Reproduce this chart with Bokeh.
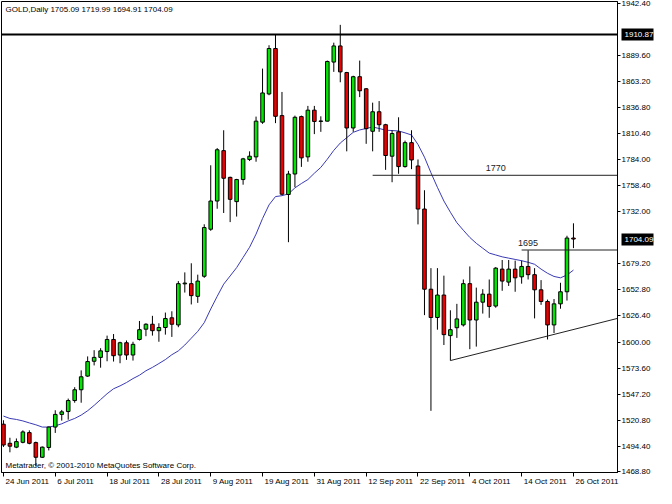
from bokeh.plotting import figure
from bokeh.models import (Range1d, FixedTicker, PrintfTickFormatter, Label, ColumnDataSource,
                          Span, LinearAxis)
from bokeh.embed import file_html
from bokeh.resources import INLINE

# ---- data (GOLD, Daily, 24 Jun 2011 - 26 Oct 2011) ----
opens = [1517.0, 1497.7, 1493.8, 1498.7, 1508.5, 1498.4, 1483.6, 1493.5, 1514.1, 1526.9,
         1529.8, 1540.9, 1551.8, 1565.6, 1580.6, 1584.5, 1590.4, 1602.6, 1586.9, 1599.3,
         1586.9, 1602.6, 1613.0, 1618.0, 1611.5, 1614.7, 1624.5, 1617.3, 1658.8, 1659.0,
         1646.2, 1666.5, 1714.0, 1742.5, 1793.4, 1766.4, 1741.9, 1764.2, 1784.5, 1787.1,
         1822.2, 1850.7, 1896.6, 1828.8, 1749.1, 1769.8, 1827.8, 1787.1, 1834.3, 1822.9,
         1823.2, 1882.9, 1899.2, 1872.3, 1816.3, 1868.1, 1855.9, 1813.0, 1832.7, 1819.6,
         1787.8, 1812.4, 1777.3, 1801.5, 1777.9, 1734.4, 1653.4, 1624.8, 1647.5, 1606.5,
         1614.5, 1617.3, 1659.0, 1622.3, 1640.3, 1648.4, 1636.4, 1673.7, 1660.6, 1673.7,
         1665.9, 1676.4, 1668.1, 1652.8, 1641.0, 1617.3, 1638.6, 1650.8, 1705.09]
highs = [1521.0, 1503.3, 1502.6, 1510.8, 1510.8, 1499.4, 1494.5, 1514.7, 1531.1, 1531.4,
         1542.9, 1554.4, 1571.4, 1585.5, 1591.8, 1593.8, 1606.5, 1608.1, 1600.3, 1601.6,
         1600.3, 1621.3, 1619.0, 1626.5, 1619.0, 1629.8, 1631.1, 1661.6, 1670.4, 1679.6,
         1668.1, 1719.0, 1778.6, 1796.0, 1814.0, 1767.1, 1764.9, 1786.1, 1792.7, 1827.8,
         1876.3, 1899.9, 1910.7, 1852.7, 1773.0, 1828.8, 1828.8, 1838.6, 1838.6, 1828.1,
         1884.4, 1902.5, 1920.5, 1873.0, 1869.1, 1884.4, 1856.6, 1841.9, 1843.5, 1820.5,
         1814.0, 1827.1, 1803.5, 1814.0, 1784.5, 1753.4, 1674.7, 1674.7, 1667.1, 1632.1,
         1638.6, 1663.2, 1676.4, 1655.0, 1653.4, 1663.2, 1675.7, 1682.9, 1682.9, 1682.3,
         1682.3, 1692.7, 1674.7, 1662.6, 1642.9, 1643.5, 1659.9, 1707.4, 1719.99]
lows = [1494.0, 1488.6, 1492.8, 1497.7, 1496.7, 1474.8, 1482.9, 1490.5, 1508.2, 1520.6,
        1521.6, 1538.7, 1538.7, 1564.9, 1576.4, 1574.1, 1580.6, 1580.3, 1578.6, 1582.0,
        1581.3, 1601.6, 1605.9, 1606.5, 1600.3, 1607.5, 1605.2, 1615.0, 1650.0, 1638.0,
        1639.6, 1664.9, 1712.4, 1734.7, 1730.4, 1721.2, 1726.8, 1759.0, 1782.9, 1782.2,
        1820.5, 1849.4, 1821.2, 1748.4, 1700.9, 1756.6, 1777.0, 1782.2, 1810.1, 1812.4,
        1822.9, 1873.0, 1862.5, 1792.7, 1812.4, 1847.5, 1800.3, 1792.7, 1812.4, 1774.0,
        1761.5, 1770.0, 1776.3, 1774.7, 1718.9, 1627.2, 1530.5, 1612.5, 1597.0, 1581.3,
        1604.2, 1615.7, 1592.8, 1595.4, 1628.8, 1624.5, 1634.7, 1651.8, 1656.7, 1650.8,
        1659.0, 1663.2, 1623.9, 1637.6, 1602.6, 1609.1, 1633.7, 1641.9, 1694.91]
closes = [1496.0, 1494.8, 1499.4, 1509.2, 1497.7, 1483.6, 1493.8, 1514.1, 1526.9, 1529.5,
          1540.9, 1551.8, 1564.9, 1580.3, 1584.5, 1591.1, 1602.6, 1586.2, 1599.3, 1586.9,
          1597.7, 1612.5, 1618.0, 1611.5, 1614.7, 1623.8, 1618.0, 1659.0, 1659.2, 1646.9,
          1661.6, 1715.7, 1742.5, 1794.3, 1765.5, 1744.2, 1764.2, 1785.1, 1787.8, 1823.2,
          1851.7, 1896.6, 1828.1, 1749.4, 1769.8, 1827.1, 1786.1, 1834.3, 1822.9, 1823.0,
          1883.5, 1899.2, 1873.0, 1816.3, 1868.1, 1853.9, 1815.6, 1832.7, 1819.6, 1788.5,
          1810.7, 1777.3, 1801.5, 1784.0, 1734.4, 1653.4, 1624.8, 1647.5, 1607.5, 1612.5,
          1623.4, 1659.0, 1622.3, 1640.3, 1648.4, 1636.0, 1674.7, 1661.6, 1673.7, 1664.9,
          1676.4, 1668.1, 1652.8, 1641.0, 1617.3, 1638.6, 1650.8, 1705.1, 1704.09]
ma_values = [1525.2, 1522.8, 1521.8, 1520.3, 1518.3, 1516.4, 1514.1, 1514.1, 1515.4, 1517.4,
             1520.3, 1522.8, 1526.2, 1530.6, 1536.0, 1541.9, 1547.8, 1552.8, 1555.7, 1559.1,
             1563.1, 1566.5, 1571.0, 1574.4, 1578.3, 1582.3, 1587.2, 1591.1, 1597.0, 1603.9,
             1610.8, 1619.6, 1633.4, 1646.2, 1658.5, 1666.8, 1675.2, 1685.5, 1695.8, 1709.1,
             1724.8, 1738.6, 1747.0, 1747.9, 1749.7, 1755.8, 1760.2, 1764.2, 1770.6, 1776.5,
             1784.8, 1793.7, 1801.1, 1806.5, 1811.9, 1814.3, 1815.8, 1817.3, 1815.8, 1814.1,
             1813.7, 1813.3, 1811.4, 1809.2, 1799.6, 1786.8, 1771.1, 1756.3, 1742.5, 1731.2,
             1720.6, 1713.0, 1705.7, 1699.8, 1694.8, 1689.9, 1688.0, 1686.1, 1684.8, 1683.5,
             1682.2, 1680.6, 1678.6, 1673.7, 1669.5, 1666.3, 1664.9, 1667.8, 1672.7]

date_tick_bars = [0, 8, 16, 24, 32, 40, 48, 56, 64, 72, 80, 88]
date_tick_labels = ["24 Jun 2011", "6 Jul 2011", "18 Jul 2011", "28 Jul 2011", "9 Aug 2011",
                    "19 Aug 2011", "31 Aug 2011", "12 Sep 2011", "22 Sep 2011", "4 Oct 2011",
                    "14 Oct 2011", "26 Oct 2011"]
price_ticks = [1942.40, 1889.60, 1863.20, 1836.80, 1810.40, 1784.00, 1758.40, 1732.00,
               1679.20, 1652.80, 1626.40, 1600.00, 1573.60, 1547.20, 1520.80, 1494.40, 1468.80]

resistance_level = 1910.87
last_close = 1704.09
level_1770 = 1768.5
level_1770_start = 57
level_1695 = 1693.0
level_1695_start = 80
trend_bars = [69, 94.8]
trend_prices = [1581.3, 1623.9]
x_lo, x_hi = -0.3, 94.8
y_lo, y_hi = 1468.2, 1944.1

header = "GOLD,Daily  1705.09 1719.99 1694.91 1704.09"
copyright_text = "Metatrader, \u00a9 2001-2010 MetaQuotes Software Corp."

FONT = "Liberation Sans"
FS = "8px"
FS_PX = 8.0
BULL = "#00e600"
BEAR = "#ee0000"
W, H = 656, 488
RIGHT_BORDER = 33
FRAME_W = W - 1 - RIGHT_BORDER

# approximate glyph widths (em) of Liberation Sans, for left-aligning date labels
_cw = {" ": 0.278, "J": 0.5, "A": 0.667, "S": 0.667, "O": 0.778,
       "u": 0.556, "n": 0.556, "l": 0.222, "g": 0.556, "e": 0.556, "p": 0.556,
       "c": 0.5, "t": 0.278, ".": 0.278}
def text_w(s):
    return sum(_cw.get(ch, 0.556) for ch in s) * FS_PX

n = len(opens)
xs = list(range(n))
src = ColumnDataSource(dict(
    x=xs,
    high=highs,
    low=lows,
    top=[max(o, c) + (0.4 if abs(o - c) < 0.5 else 0) for o, c in zip(opens, closes)],
    bottom=[min(o, c) for o, c in zip(opens, closes)],
    color=[BULL if c >= o else BEAR for o, c in zip(opens, closes)],
))

p = figure(width=W, height=H, output_backend="svg", toolbar_location=None,
           x_range=Range1d(x_lo, x_hi), y_range=Range1d(y_lo, y_hi),
           y_axis_location="right", min_border_left=1, min_border_top=1,
           min_border_right=RIGHT_BORDER, min_border_bottom=5)
p.grid.visible = False
p.outline_line_color = "black"
p.outline_line_width = 1
p.background_fill_color = "white"
p.border_fill_color = "white"

# right price axis
ya = p.yaxis[0]
ya.ticker = FixedTicker(ticks=price_ticks)
ya.formatter = PrintfTickFormatter(format="%.2f")
ya.major_tick_in = 0
ya.major_tick_out = 3
ya.minor_tick_line_color = None
ya.axis_line_color = "black"
ya.major_label_text_font = FONT
ya.major_label_text_font_size = FS
ya.major_label_text_color = "black"
ya.major_label_standoff = 1

# highlighted price boxes (MetaTrader style): a second right axis whose thick
# inward ticks form black boxes behind white labels; it takes no extra room.
lab_w = text_w("1910.87")
box_axis = LinearAxis(ticker=FixedTicker(ticks=[resistance_level, last_close]),
                      formatter=PrintfTickFormatter(format="%.2f"),
                      axis_line_color=None, minor_tick_line_color=None,
                      minor_tick_in=0, minor_tick_out=0,
                      major_tick_in=RIGHT_BORDER - 1, major_tick_out=0,
                      major_tick_line_color="black", major_tick_line_width=12,
                      major_tick_line_cap="butt",
                      major_label_standoff=-int(round(lab_w)),
                      major_label_text_color="white", major_label_text_font=FONT,
                      major_label_text_font_size=FS)
p.add_layout(box_axis, "right")

# date axis: tick marks at the bars
xa = p.xaxis[0]
xa.ticker = FixedTicker(ticks=date_tick_bars)
xa.major_label_overrides = {b: "" for b in date_tick_bars}
xa.major_tick_in = 0
xa.major_tick_out = 4
xa.minor_tick_line_color = None
xa.axis_line_color = "black"
xa.major_label_text_font_size = "1px"
xa.major_label_standoff = 0

# date labels, starting just right of each tick (MetaTrader style)
px_per_bar = FRAME_W / (x_hi - x_lo)
label_pos = [round(b + (text_w(t) / 2 + 2) / px_per_bar, 3)
             for b, t in zip(date_tick_bars, date_tick_labels)]
xb = LinearAxis(ticker=FixedTicker(ticks=label_pos),
                major_label_overrides={pos: t for pos, t in zip(label_pos, date_tick_labels)},
                major_tick_in=0, major_tick_out=0, minor_tick_line_color=None,
                axis_line_color=None, major_label_standoff=0,
                major_label_text_font=FONT, major_label_text_font_size=FS,
                major_label_text_color="black")
p.add_layout(xb, "below")

# moving average
p.line(xs, ma_values, color="#3a3ab4", line_width=1)

# candles
p.segment(x0="x", y0="low", x1="x", y1="high", source=src, color="black", line_width=1)
p.vbar(x="x", width=0.55, top="top", bottom="bottom", source=src,
       fill_color="color", line_color="black", line_width=1)

# drawn objects
p.add_layout(Span(location=resistance_level, dimension="width", line_color="black", line_width=2))
p.line([level_1770_start, x_hi], [level_1770, level_1770], color="#222222", line_width=1)
p.line([level_1695_start, x_hi], [level_1695, level_1695], color="#222222", line_width=1)
p.line(trend_bars, trend_prices, color="#222222", line_width=1)

p.add_layout(Label(x=76, y=level_1770, y_offset=4, text="1770", text_align="center",
                   text_baseline="bottom", text_font=FONT, text_font_size="9px", text_color="#222222"))
p.add_layout(Label(x=81, y=level_1695, y_offset=4, text="1695", text_align="center",
                   text_baseline="bottom", text_font=FONT, text_font_size="9px", text_color="#222222"))

p.add_layout(Label(x=x_lo, y=y_hi, x_offset=4, y_offset=-3, text=header, text_align="left",
                   text_baseline="top", text_font=FONT, text_font_size=FS, text_color="black"))
p.add_layout(Label(x=x_lo, y=y_lo, x_offset=4, y_offset=3, text=copyright_text, text_align="left",
                   text_baseline="bottom", text_font=FONT, text_font_size=FS, text_color="black"))

open("out.html", "w").write(file_html(p, INLINE))
